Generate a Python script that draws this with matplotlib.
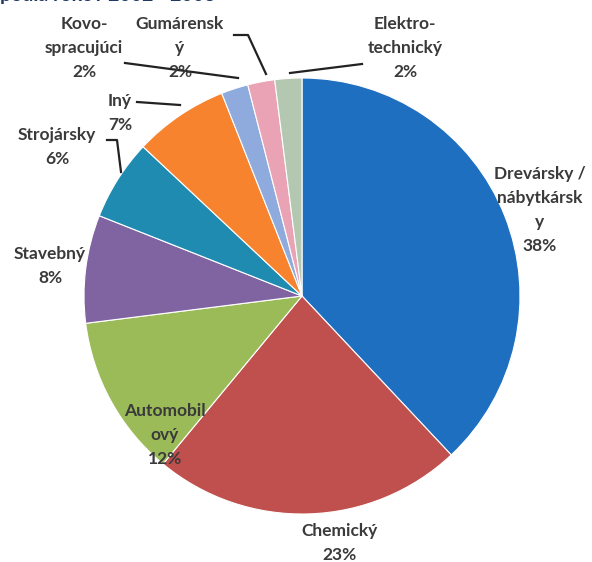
import matplotlib.pyplot as plt

# data
sectors = ["Drevársky /\nnábytkársk\ny", "Chemický", "Automobil\nový", "Stavebný",
           "Strojársky", "Iný", "Kovo-\nspracujúci", "Gumárensk\ný", "Elektro-\ntechnický"]
shares = [38, 23, 12, 8, 6, 7, 2, 2, 2]
colors = ["#1f6fc1", "#c0504d", "#9bbb59", "#8064a2", "#1f8bb0",
          "#f7832f", "#8faadc", "#e9a3b4", "#b4c7b0"]

# label positions in pixels (x, y from top) and leader lines
label_px = [(540, 210), (340, 543), (165, 435), (50, 266), (57, 147),
            (120, 113), (84, 48), (180, 48), (405, 48)]
leaders = {
    4: [(107, 140), (117, 140), (121, 172)],
    5: [(137, 102), (180, 105)],
    6: [(125, 63), (238, 78)],
    7: [(234, 35), (248, 35), (266, 74)],
    8: [(362, 64), (290, 73)],
}

CX, CY, R = 302, 296, 218


def px(x, y):
    return (x - CX) / R, (CY - y) / R


fig = plt.figure(figsize=(5.92, 5.62), dpi=100)
ax = fig.add_axes([0, 0, 1, 1])

ax.pie(shares, colors=colors, startangle=90, counterclock=False, radius=1,
       wedgeprops=dict(edgecolor="white", linewidth=0.8))

ax.set_xlim(px(0, 0)[0], px(592, 0)[0])
ax.set_ylim(px(0, 562)[1], px(0, 0)[1])
ax.set_aspect("equal")
ax.axis("off")

for i, (name, val) in enumerate(zip(sectors, shares)):
    x, y = px(*label_px[i])
    ax.text(x, y, f"{name}\n{val}%", ha="center", va="center", fontsize=12.5,
            fontweight="bold", family="Lato", color="#3a3a3a", linespacing=1.6)

for pts in leaders.values():
    xs, ys = zip(*[px(*p) for p in pts])
    ax.plot(xs, ys, color="#222222", lw=1.6)

# title of the page, mostly cut off at the top edge
tx, ty = px(0, -4)
ax.text(tx, ty, "podľa rokov 2002 - 2008", ha="left", va="center", fontsize=14,
        fontweight="bold", color="#1f3864", family="Lato")

fig.savefig("out.png", dpi=100)
